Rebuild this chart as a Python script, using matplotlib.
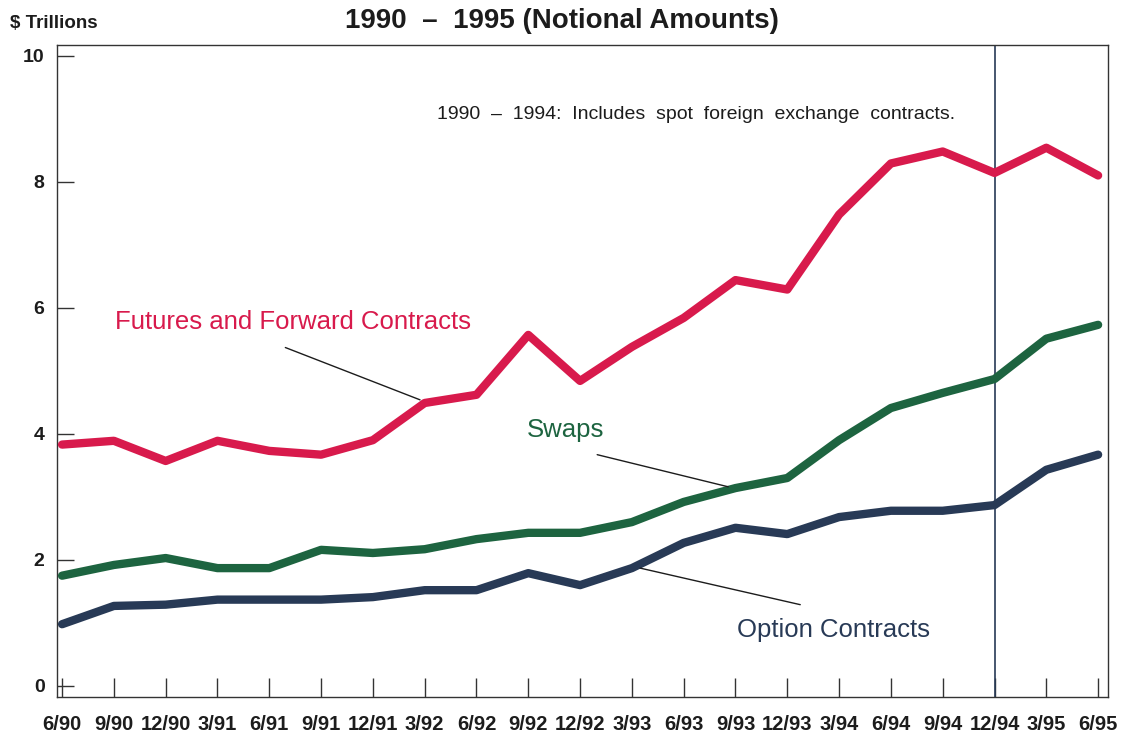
import matplotlib.pyplot as plt

plt.rcParams['font.family'] = ['Liberation Sans', 'DejaVu Sans']

# Quarter-end dates
quarters = ['6/90', '9/90', '12/90', '3/91', '6/91', '9/91', '12/91', '3/92', '6/92',
            '9/92', '12/92', '3/93', '6/93', '9/93', '12/93', '3/94', '6/94', '9/94',
            '12/94', '3/95', '6/95']

# Notional amounts, $ trillions
futures = [3.83, 3.89, 3.57, 3.89, 3.73, 3.67, 3.90, 4.49, 4.62, 5.57, 4.84,
           5.38, 5.84, 6.44, 6.29, 7.48, 8.29, 8.48, 8.14, 8.54, 8.10]
swaps = [1.75, 1.92, 2.03, 1.87, 1.87, 2.16, 2.11, 2.17, 2.33, 2.43, 2.43,
         2.60, 2.92, 3.14, 3.30, 3.90, 4.41, 4.65, 4.87, 5.51, 5.73]
options = [0.98, 1.27, 1.29, 1.37, 1.37, 1.37, 1.41, 1.52, 1.52, 1.79, 1.60,
           1.87, 2.27, 2.51, 2.41, 2.68, 2.78, 2.78, 2.87, 3.43, 3.67]

y_ticks = [0, 2, 4, 6, 8, 10]

red = '#d81a4c'
green = '#1d6440'
navy = '#283a56'
ink = '#1c1c1c'

fig = plt.figure(figsize=(11.23, 7.40), dpi=100)
ax = fig.add_axes([0.0508, 0.0581, 0.9358, 0.8811])

x = list(range(len(quarters)))
lw = 6
for vals, col in [(futures, red), (swaps, green), (options, navy)]:
    ax.plot(x, vals, color=col, lw=lw, solid_capstyle='round',
            solid_joinstyle='round', zorder=3)

# Break between 1994 and 1995 data definitions
ax.axvline(quarters.index('12/94'), color=navy, lw=1.2, zorder=2)

ax.set_xlim(-0.097, 20.19)
ax.set_ylim(-0.175, 10.17)

ax.set_xticks(x)
ax.set_xticklabels(quarters, fontsize=14.5, fontweight='bold', color=ink)
ax.set_yticks(y_ticks)
ax.set_yticklabels([str(v) for v in y_ticks], fontsize=14, fontweight='bold', color=ink)
ax.tick_params(axis='x', direction='in', length=14, width=1, color='#333333', pad=13)
ax.tick_params(axis='y', direction='in', length=12, width=1, color='#333333', pad=9)

for s in ax.spines.values():
    s.set_linewidth(1.0)
    s.set_color('#333333')

# Series labels
lab_size = 18.5
ax.text(1.02, 5.78, 'Futures and Forward Contracts', fontsize=lab_size, color=red,
        va='center', ha='left')
ax.text(8.98, 4.06, 'Swaps', fontsize=lab_size, color=green, va='center', ha='left')
ax.text(13.03, 0.89, 'Option Contracts', fontsize=lab_size, color=navy,
        va='center', ha='left')

# Leader lines
leader = dict(arrowstyle='-', color=ink, lw=1, shrinkA=0, shrinkB=0)
ax.annotate('', xy=(6.91, 4.54), xytext=(4.31, 5.37), arrowprops=leader)
ax.annotate('', xy=(12.86, 3.16), xytext=(10.33, 3.67), arrowprops=leader)
ax.annotate('', xy=(11.16, 1.87), xytext=(14.25, 1.29), arrowprops=leader)

ax.text(7.24, 9.06, '1990  \u2013  1994:  Includes  spot  foreign  exchange  contracts.',
        fontsize=14, color=ink, va='center', ha='left')

fig.text(0.5, 0.972, '1990  \u2013  1995 (Notional Amounts)', fontsize=20,
         fontweight='bold', color=ink, ha='center', va='center')
fig.text(0.009, 0.968, '$ Trillions', fontsize=13.5, fontweight='bold', color=ink,
         ha='left', va='center')

fig.savefig('out.png', dpi=100, facecolor='white')
